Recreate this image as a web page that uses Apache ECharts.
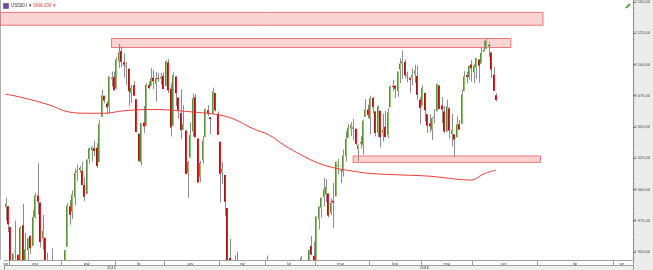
<!DOCTYPE html>
<html><head><meta charset="utf-8">
<script src="https://cdn.jsdelivr.net/npm/echarts@6.0.0/dist/echarts.min.js"></script>
<style>html,body{margin:0;padding:0;background:#fff}#c{width:653px;height:270px}</style>
</head><body><div id="c"></div>
<script>
// ---- data ----
const firstDay = '2015-08-28', lastDay = '2016-06-14', axisEnd = '2016-08-08';
const holidays = ['2015-09-07','2015-11-26','2015-12-25','2016-01-01','2016-01-18','2016-02-15','2016-03-25','2016-05-30'];
const monthNames = ['sty','lut','mar','kwi','maj','cze','lip','sie','wrz','paź','lis','gru'];
const yTickLabels = [1950,1975,2000,2025,2050,2075,2100,2125,2150];
const symbolName = 'US500.I', smaName = 'SMA 200';
// [open, close, low, high] per trading day
const candles = [
[1986.1,1988.9,1975.2,1993.5],[1986.7,1972.2,1965.9,1986.7],[1970.1,1913.9,1903.1,1970.1],[1916.5,1948.9,1916.5,1948.9],
[1950.8,1951.1,1944.0,1975.0],[1947.8,1921.2,1911.2,1947.8],[1927.3,1969.4,1927.3,1970.4],[1971.5,1942.0,1937.9,1988.6],
[1941.6,1952.3,1937.2,1965.3],[1951.5,1961.1,1939.2,1961.1],[1963.1,1953.0,1948.3,1963.1],[1955.1,1978.1,1955.1,1983.2],
[1978.0,1995.3,1976.9,1997.3],[1995.3,1990.2,1980.0,2020.9],[1989.7,1958.0,1953.6,1989.7],[1960.8,1967.0,1951.8,1979.6],
[1961.4,1942.7,1929.2,1961.4],[1943.2,1938.8,1935.1,1949.5],[1932.2,1932.2,1908.9,1937.2],[1935.9,1931.3,1925.7,1952.9],
[1929.2,1881.8,1876.4,1929.2],[1881.9,1884.1,1871.9,1899.5],[1887.1,1920.0,1887.1,1920.5],[1919.7,1923.8,1900.7,1927.2],
[1921.8,1951.4,1893.7,1951.4],[1954.3,1987.1,1954.3,1989.2],[1986.6,1979.9,1971.9,1991.6],[1982.3,1995.8,1976.4,1999.3],
[1994.0,2013.4,1987.5,2016.5],[2013.7,2014.9,2007.0,2020.1],[2015.7,2017.5,2013.7,2019.0],[2015.0,2003.7,2003.4,2022.3],
[2003.7,1994.2,1990.7,2009.6],[1996.5,2023.9,1996.5,2024.2],[2024.4,2033.1,2020.5,2033.5],[2031.7,2033.7,2022.3,2034.5],
[2033.1,2030.8,2026.6,2039.1],[2033.5,2018.9,2017.2,2037.0],[2021.9,2052.5,2021.9,2055.2],[2058.2,2075.2,2058.2,2079.7],
[2075.1,2071.2,2069.0,2075.1],[2068.8,2065.9,2059.8,2070.4],[2066.5,2090.4,2061.0,2090.4],[2088.4,2089.4,2082.3,2094.3],
[2090.0,2079.4,2079.2,2094.3],[2080.8,2104.1,2080.8,2106.2],[2102.6,2109.8,2097.1,2116.5],[2110.6,2102.3,2097.9,2114.6],
[2101.9,2099.9,2089.4,2108.8],[2098.6,2099.2,2083.7,2101.9],[2096.6,2078.6,2066.8,2096.6],[2077.2,2081.7,2069.3,2083.7],
[2083.4,2075.0,2075.0,2086.9],[2072.3,2046.0,2045.7,2072.3],[2044.6,2023.0,2022.0,2044.6],[2022.1,2053.2,2019.4,2053.2],
[2053.7,2050.4,2045.3,2066.8],[2051.0,2083.6,2051.0,2085.3],[2083.7,2081.2,2080.3,2086.7],[2082.8,2089.2,2082.8,2097.1],
[2089.4,2086.6,2080.0,2095.6],[2084.4,2089.1,2070.3,2094.1],[2089.3,2088.9,2086.1,2093.0],[2088.8,2090.1,2084.0,2093.3],
[2090.9,2080.4,2080.4,2093.8],[2082.9,2102.6,2082.9,2103.4],[2101.7,2079.5,2077.1,2104.3],[2080.7,2049.6,2042.4,2085.0],
[2051.2,2091.7,2051.2,2093.8],[2090.4,2077.1,2066.8,2090.4],[2073.4,2063.6,2056.8,2073.9],[2061.2,2047.6,2040.3,2080.3],
[2047.9,2052.2,2047.9,2067.7],[2047.3,2012.4,2012.4,2047.3],[2013.4,2021.9,1993.3,2022.9],[2025.6,2043.4,2025.6,2053.9],
[2046.5,2073.1,2042.4,2076.7],[2073.8,2041.9,2041.9,2076.4],[2040.8,2005.6,2005.6,2040.8],[2010.3,2021.2,2005.9,2022.9],
[2023.2,2039.0,2020.5,2042.7],[2042.2,2064.3,2042.2,2064.7],[2063.5,2061.0,2058.9,2067.4],[2057.8,2056.5,2044.2,2057.8],
[2060.5,2078.4,2060.5,2081.6],[2077.3,2063.4,2062.5,2077.3],[2060.6,2043.9,2043.6,2062.5],[2038.2,2012.7,1989.7,2038.2],
[2013.8,2016.7,2004.2,2021.9],[2011.7,1990.3,1979.1,2011.7],[1985.3,1943.1,1938.8,1985.3],[1945.2,1922.0,1918.5,1960.4],
[1926.1,1923.7,1901.1,1935.7],[1927.8,1938.7,1914.4,1947.4],[1940.3,1890.3,1886.4,1950.3],[1891.7,1921.8,1878.9,1934.5],
[1916.7,1880.3,1857.8,1916.7],[1888.7,1881.3,1864.6,1901.4],[1876.2,1859.3,1812.3,1876.2],[1861.5,1869.0,1848.9,1889.9],
[1877.4,1906.9,1877.4,1908.9],[1906.3,1877.1,1875.0,1906.3],[1878.8,1903.6,1878.8,1906.3],[1902.5,1883.0,1872.7,1916.9],
[1885.2,1893.4,1868.4,1902.6],[1894.0,1940.2,1894.0,1940.2],[1936.9,1939.4,1920.3,1947.2],[1935.3,1903.0,1897.8,1935.3],
[1907.1,1912.5,1872.7,1918.0],[1911.7,1915.5,1903.2,1927.4],[1913.1,1880.1,1872.7,1913.1],[1873.3,1853.4,1828.5,1873.3],
[1848.5,1852.2,1834.5,1868.3],[1857.1,1851.9,1847.0,1881.6],[1847.0,1829.1,1810.1,1847.0],[1833.4,1864.8,1833.4,1864.8],
[1871.4,1895.6,1871.4,1895.8],[1898.8,1926.8,1898.8,1930.7],[1927.6,1917.8,1915.1,1930.0],[1916.7,1917.8,1902.0,1918.8],
[1924.4,1945.5,1924.4,1946.7],[1942.9,1921.3,1919.4,1942.9],[1917.6,1929.8,1891.0,1932.1],[1931.9,1951.7,1917.8,1951.8],
[1954.9,1948.1,1947.4,1963.0],[1947.1,1932.2,1931.8,1958.3],[1937.1,1978.4,1937.1,1978.4],[1976.6,1986.5,1968.1,1986.5],
[1985.6,1993.4,1977.4,1993.7],[1994.0,2000.0,1986.6,2009.1],[1996.1,2001.8,1989.7,2008.2],[1996.9,1979.3,1977.7,1996.9],
[1981.4,1989.3,1979.6,1992.7],[1991.0,1989.6,1969.3,2005.1],[1994.7,2022.2,1994.7,2022.4],[2019.3,2019.6,2012.1,2024.6],
[2015.3,2015.9,2005.2,2015.9],[2014.2,2027.2,2010.3,2032.0],[2026.9,2040.6,2022.3,2046.5],[2041.2,2049.6,2041.2,2052.4],
[2048.6,2051.6,2042.6,2053.9],[2048.6,2049.8,2039.5,2056.6],[2048.6,2036.7,2035.7,2048.6],[2032.5,2035.9,2022.5,2036.0],
[2037.9,2037.1,2033.0,2042.7],[2035.8,2055.0,2028.1,2055.9],[2058.3,2064.0,2058.3,2072.2],[2063.8,2059.7,2057.0,2067.9],
[2056.6,2072.8,2044.0,2075.1],[2073.2,2066.1,2060.8,2074.0],[2062.5,2045.2,2042.6,2062.5],[2045.6,2066.7,2042.1,2067.3],
[2063.0,2041.9,2033.8,2063.0],[2045.5,2047.6,2038.5,2060.6],[2050.2,2042.0,2041.7,2062.9],[2043.7,2061.7,2041.1,2065.1],
[2065.9,2082.4,2065.9,2083.2],[2082.9,2082.8,2078.8,2087.8],[2083.1,2080.7,2073.0,2083.2],[2078.8,2094.3,2074.2,2094.7],
[2096.1,2100.8,2085.1,2104.9],[2101.0,2102.4,2088.5,2111.1],[2102.1,2091.5,2089.1,2103.9],[2091.5,2091.6,2085.9,2094.3],
[2089.4,2087.8,2077.5,2089.4],[2089.8,2091.7,2083.4,2096.9],[2092.6,2095.2,2085.2,2099.9],[2090.9,2075.8,2071.9,2099.1],
[2071.8,2065.3,2052.3,2073.9],[2067.2,2081.4,2067.2,2083.4],[2077.2,2063.4,2054.6,2077.2],[2060.3,2051.1,2045.1,2060.3],
[2052.9,2050.6,2045.6,2060.2],[2047.8,2057.1,2039.5,2057.7],[2057.6,2058.7,2052.8,2064.2],[2062.6,2084.4,2062.6,2084.9],
[2083.3,2064.5,2064.3,2083.5],[2067.2,2064.1,2053.1,2073.9],[2062.5,2046.6,2045.0,2066.8],[2046.5,2066.7,2046.5,2071.9],
[2065.0,2047.2,2040.8,2065.7],[2044.4,2047.6,2034.5,2060.6],[2044.2,2040.0,2025.9,2044.2],[2041.9,2052.3,2041.9,2058.4],
[2052.2,2048.0,2047.5,2055.6],[2052.6,2076.1,2052.6,2079.7],[2078.9,2090.5,2078.9,2094.7],[2091.4,2090.1,2084.9,2094.3],
[2090.1,2099.1,2087.9,2099.1],[2100.1,2097.0,2086.4,2103.5],[2093.9,2099.3,2085.1,2100.2],[2097.7,2105.3,2088.6,2105.3],
[2104.1,2099.1,2085.4,2104.1],[2100.8,2109.4,2100.8,2113.4],[2110.2,2112.1,2110.2,2119.2],[2112.7,2119.1,2112.7,2120.6],
[2115.7,2115.5,2106.0,2117.6],[2109.6,2096.1,2089.2,2109.6],[2091.8,2079.1,2078.9,2098.1],[2075.5,2071.6,2070.5,2077.0]
];
// SMA 200 at these dates
const smaDates  = ['2015-08-28','2015-09-08','2015-09-24','2015-10-05','2015-10-15','2015-10-26','2015-11-05','2015-11-23','2015-12-03','2015-12-11','2015-12-22','2016-01-04','2016-01-12','2016-01-22','2016-02-02','2016-02-10','2016-02-22','2016-03-02','2016-03-11','2016-03-21','2016-03-31','2016-04-20','2016-05-04','2016-05-13','2016-05-23','2016-05-31','2016-06-02','2016-06-07','2016-06-14'];
const smaValues = [2076.3,2073.9,2067.5,2062.3,2061.0,2061.0,2063.0,2064.0,2063.5,2062.5,2061.3,2059.5,2056.0,2049.0,2043.5,2035.5,2027.6,2021.0,2017.0,2015.0,2013.0,2011.6,2010.8,2009.4,2008.1,2007.6,2009.0,2012.5,2015.5];
// zones: [from date (null = chart start), to date, top, bottom]
const zones = [
  [null,'2016-07-03',2141.7,2131.4],
  ['2015-10-29','2016-06-20',2120.8,2113.6],
  ['2016-03-22','2016-07-02',2026.8,2021.7]
];
const lastPrice = 2071.6;

// ---- categories ----
function iso(d){return d.toISOString().slice(0,10);}
const dates = [];
for (let d = new Date(firstDay+'T00:00:00Z'); iso(d) <= lastDay; d.setUTCDate(d.getUTCDate()+1)) {
  const w = d.getUTCDay(); if (w===0||w===6||holidays.includes(iso(d))) continue; dates.push(iso(d));
}
const futureStart = new Date(lastDay+'T00:00:00Z'); futureStart.setUTCDate(futureStart.getUTCDate()+1);
for (let d = futureStart; iso(d) <= axisEnd; d.setUTCDate(d.getUTCDate()+1)) dates.push(iso(d));

const monthStart = new Set(), monthMid = new Set(), yearStart = new Set(), yearMid = new Set();
(function(){
  let groupsM = {}, groupsY = {};
  dates.forEach((d,i)=>{ const m=d.slice(0,7), y=d.slice(0,4); (groupsM[m]=groupsM[m]||[]).push(i); (groupsY[y]=groupsY[y]||[]).push(i); });
  Object.values(groupsM).forEach(a=>{ if (a[0]>0) monthStart.add(a[0]); monthMid.add(a[Math.floor((a.length-1)/2)]); });
  Object.values(groupsY).forEach(a=>{ if (a[0]>0) yearStart.add(a[0]); yearMid.add(a[Math.floor((a.length-1)/2)]); });
})();

function fmt(v){ const s=v.toFixed(2).split('.'); return s[0].replace(/\B(?=(\d{3})+(?!\d))/g,' ')+','+s[1]; }
const minorTicks=[]; for(let v=1945; v<=2150; v+=5) if (v%25) minorTicks.push(v);

const yMin = 1943.6, yMax = 2151.4;
const font = 'Liberation Sans';

const chart = echarts.init(document.getElementById('c'), null, {renderer:'canvas'});
chart.setOption({
  animation:false,
  backgroundColor:'#fff',
  grid:{left:0,right:20,top:0,bottom:10,containLabel:false},
  xAxis:[{
    type:'category', data:dates, boundaryGap:true,
    axisLine:{lineStyle:{color:'#a0a0a0',width:1}},
    axisTick:{show:true, interval:(i)=>monthStart.has(i), length:5, lineStyle:{color:'#a0a0a0'}},
    axisLabel:{interval:(i)=>monthMid.has(i), formatter:(v)=>monthNames[+v.slice(5,7)-1], fontSize:4, color:'#444', margin:1.5, fontFamily:font},
    splitLine:{show:false}
  },{
    type:'category', data:dates, boundaryGap:true, position:'bottom', offset:5,
    axisLine:{lineStyle:{color:'#a0a0a0',width:1}},
    axisTick:{show:true, interval:(i)=>yearStart.has(i), length:5, lineStyle:{color:'#a0a0a0'}},
    axisLabel:{interval:(i)=>yearMid.has(i), formatter:(v)=>v.slice(0,4), fontSize:4, color:'#444', margin:1, fontFamily:font},
    splitLine:{show:false}
  }],
  yAxis:[{
    type:'value', position:'right', min:yMin, max:yMax, scale:true,
    axisLine:{show:true, lineStyle:{color:'#8a8a8a'}},
    axisTick:{show:true, customValues:yTickLabels, length:2.5, lineStyle:{color:'#777'}},
    axisLabel:{customValues:yTickLabels, formatter:fmt, fontSize:4, color:'#444', margin:1.5, fontFamily:font},
    splitLine:{show:false}
  },{
    type:'value', position:'right', min:yMin, max:yMax, scale:true,
    axisLine:{show:false},
    axisTick:{show:true, customValues:minorTicks, length:1.5, lineStyle:{color:'#999'}},
    axisLabel:{show:false}, splitLine:{show:false}
  }],
  graphic:{elements:[
    {type:'rect', shape:{x:633,y:0,width:20,height:270}, style:{fill:'#ececec'}, z:-10, silent:true},
    {type:'rect', shape:{x:0,y:265,width:633,height:5}, style:{fill:'#f0f0f0'}, z:-10, silent:true},
    {type:'line', shape:{x1:0.5,y1:0,x2:0.5,y2:260}, style:{stroke:'#b0b0b0',lineWidth:1}, z:-9, silent:true},
    {type:'rect', shape:{x:3.5,y:3.5,width:5,height:5}, style:{fill:'#6f48a8',stroke:'#4a2f7a',lineWidth:0.5}},
    {type:'text', x:11, y:3.5, style:{text:symbolName+' ▾', fontSize:4.5, fill:'#333', fontFamily:font}},
    {type:'text', x:33, y:3.5, style:{text:smaName+' ▾', fontSize:4.5, fill:'#e0403c', fontFamily:font}},
    {type:'line', shape:{x1:626,y1:8,x2:630,y2:4}, style:{stroke:'#5aa83c',lineWidth:2}}
  ]},
  series:[{
    type:'line', data:[], z:1, silent:true,
    markArea:{silent:true,
      itemStyle:{color:'rgba(243,120,120,0.33)', borderColor:'rgba(235,90,90,0.8)', borderWidth:1},
      data: zones.map(z=>[ z[0]===null ? {x:0, yAxis:z[2]} : {xAxis:z[0], yAxis:z[2]}, {xAxis:z[1], yAxis:z[3]}])
    }
  },{
    type:'custom', z:2, clip:true,
    data: candles.map((c,i)=>[i,c[0],c[1],c[2],c[3]]),
    encode:{x:0,y:[1,2,3,4]},
    renderItem:function(params, api){
      const cs=params.coordSys, top=cs.y, bot=cs.y+cs.height;
      const cl=v=>Math.max(top,Math.min(bot,v));
      const i=api.value(0), o=api.value(1), c=api.value(2), l=api.value(3), h=api.value(4);
      const pO=api.coord([i,o]), pC=api.coord([i,c]), pL=api.coord([i,l]), pH=api.coord([i,h]);
      if (pL[1] < top || pH[1] > bot) return null;
      const xc=Math.round(pO[0]);
      const up=c>=o;
      let bt=cl(Math.min(pO[1],pC[1])), bb=cl(Math.max(pO[1],pC[1]));
      if (bb-bt<1) bb=bt+1;
      const children=[
        {type:'line', shape:{x1:xc+0.5,y1:cl(pH[1]),x2:xc+0.5,y2:cl(pL[1])}, style:{stroke:'#8c8c8c',lineWidth:1}}
      ];
      if (bb>bt) {
        children.push({type:'rect', shape:{x:xc-1,y:bt,width:1,height:bb-bt}, style:{fill: up?'#5b8f3d':'#a3141a'}});
        children.push({type:'rect', shape:{x:xc,y:bt,width:1,height:bb-bt}, style:{fill: up?'#8fc46c':'#ee1c24'}});
      }
      return {type:'group', children};
    }
  },{
    type:'line', z:3, silent:true, smooth:0.4, showSymbol:false, connectNulls:true,
    data: smaDates.map((d,k)=>[d, smaValues[k]]),
    lineStyle:{color:'#ee3b36', width:1},
    markLine:{silent:true, symbol:'none', data:[{yAxis:lastPrice}], lineStyle:{opacity:0},
      label:{position:'end', formatter:fmt(lastPrice), fontSize:4, color:'#333', backgroundColor:'#ffffc4',
             borderColor:'#999', borderWidth:0.5, padding:[1.5,1,1,1], distance:1, fontFamily:font}}
  }]
});
</script></body></html>
